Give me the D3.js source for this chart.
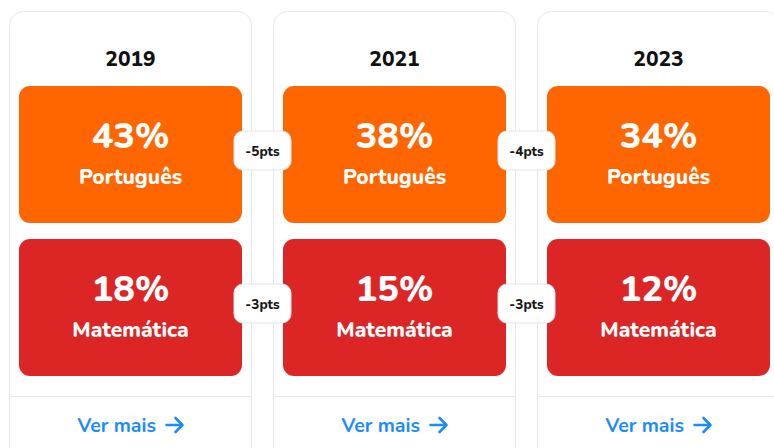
<!DOCTYPE html>
<html>
<head>
<meta charset="utf-8">
<script src="https://cdn.jsdelivr.net/npm/d3@7"></script>
<style>
  html, body { margin: 0; padding: 0; background: #fff; }
  svg { display: block; font-family: Nunito, Lato, "Noto Sans", sans-serif; }
</style>
</head>
<body>
<div id="vis"></div>
<script>
// data
var years = ["2019", "2021", "2023"];
var subjects = ["Português", "Matemática"];
var portugues = [43, 38, 34];
var matematica = [18, 15, 12];
var subjectColors = ["#ff6600", "#dc2626"];
var linkLabel = "Ver mais";

var width = 774, height = 448;

var svg = d3.select("#vis")
  .append("svg")
    .attr("width", width)
    .attr("height", height);

// card columns
var xScale = d3.scaleBand()
    .domain(years)
    .range([9, 780])
    .paddingInner(21 / 264)
    .paddingOuter(0);

// boxes inside a card
var yScale = d3.scaleBand()
    .domain(subjects)
    .range([86, 376])
    .paddingInner(16 / 153)
    .paddingOuter(0);

var values = { "Português": portugues, "Matemática": matematica };
var color = d3.scaleOrdinal().domain(subjects).range(subjectColors);

var bw = xScale.bandwidth();
var pad = 10;

// cards
var cards = svg.selectAll(".card")
  .data(years)
  .enter()
  .append("g")
    .attr("class", "card")
    .attr("transform", function(d){ return "translate(" + xScale(d) + ",0)" });

cards.append("rect")
    .attr("x", 0.5)
    .attr("y", 11.5)
    .attr("width", bw - 1)
    .attr("height", 460)
    .attr("rx", 14)
    .style("fill", "#fff")
    .style("stroke", "#e6e7eb")
    .style("stroke-width", 1);

cards.append("text")
    .attr("x", bw / 2)
    .attr("y", 66)
    .attr("text-anchor", "middle")
    .style("font-size", "21px")
    .style("font-weight", 800)
    .style("fill", "#111")
    .text(function(d){ return d });

// footer divider
cards.append("line")
    .attr("x1", 1)
    .attr("x2", bw - 1)
    .attr("y1", 396.5)
    .attr("y2", 396.5)
    .style("stroke", "#e6e7eb");

var link = cards.append("g")
    .attr("transform", "translate(" + (bw / 2 - 53) + ",432)");
link.append("text")
    .attr("x", 0)
    .attr("y", 0)
    .style("font-size", "19.5px")
    .style("font-weight", 700)
    .style("fill", "#1a8cff")
    .text(linkLabel);
link.append("path")
    .attr("d", "M89,-7 H105 M98,-14 L105,-7 L98,0")
    .style("fill", "none")
    .style("stroke", "#1a8cff")
    .style("stroke-width", 2.6)
    .style("stroke-linecap", "round")
    .style("stroke-linejoin", "round");

// subject boxes
subjects.forEach(function(s){
  var g = cards.append("g")
      .attr("transform", "translate(" + pad + "," + yScale(s) + ")");
  g.append("rect")
      .attr("width", bw - 2 * pad)
      .attr("height", yScale.bandwidth())
      .attr("rx", 11)
      .style("fill", color(s));
  g.append("text")
      .attr("x", (bw - 2 * pad) / 2)
      .attr("y", 62)
      .attr("text-anchor", "middle")
      .style("font-size", "36px")
      .style("font-weight", 800)
      .style("fill", "#fff")
      .text(function(d){ return values[s][years.indexOf(d)] + "%" });
  g.append("text")
      .attr("x", (bw - 2 * pad) / 2)
      .attr("y", 98)
      .attr("text-anchor", "middle")
      .style("font-size", "21px")
      .style("font-weight", 800)
      .style("fill", "#fff")
      .text(s);
});

// difference badges between consecutive years
var diffs = [];
subjects.forEach(function(s){
  for (var i = 1; i < years.length; i++) {
    diffs.push({ subject: s, from: years[i - 1], to: years[i], diff: values[s][i] - values[s][i - 1] });
  }
});

var badges = svg.selectAll(".badge")
  .data(diffs)
  .enter()
  .append("g")
    .attr("class", "badge")
    .attr("transform", function(d){
      var cx = (xScale(d.from) + bw + xScale(d.to)) / 2;
      var cy = yScale(d.subject) + yScale.bandwidth() / 2 - 4;
      return "translate(" + cx + "," + cy + ")";
    });

badges.append("rect")
    .attr("x", -28.5)
    .attr("y", -19.5)
    .attr("width", 57)
    .attr("height", 39)
    .attr("rx", 9)
    .style("fill", "#fff")
    .style("stroke", "#e3e4e8");

badges.append("text")
    .attr("y", 5)
    .attr("text-anchor", "middle")
    .style("font-size", "13.5px")
    .style("font-weight", 800)
    .style("fill", "#1a1a1a")
    .text(function(d){ return (d.diff > 0 ? "+" : "") + d.diff + "pts" });
</script>
</body>
</html>
